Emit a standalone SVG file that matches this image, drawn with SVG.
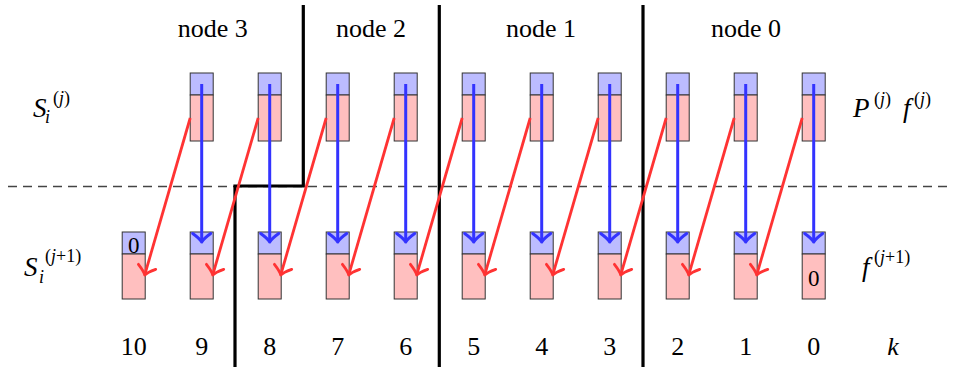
<svg xmlns="http://www.w3.org/2000/svg" width="953" height="367" viewBox="0 0 953 367">
<style>
.lbl{font-size:26px;text-anchor:middle}
.num{font-size:26px;text-anchor:middle}
.it{font-style:italic}
.sup{font-size:18px}
.blue{fill:#bcbcff;stroke:#333;stroke-width:1}
.pink{fill:#ffbfbf;stroke:#333;stroke-width:1}
.bnd{fill:none;stroke:#000;stroke-width:3.2;stroke-linejoin:miter}
.ba{stroke:#3333ff;stroke-width:3;fill:none;marker-end:url(#hb)}
.ra{stroke:#ff3333;stroke-width:2.8;fill:none;marker-end:url(#hr)}
</style>
<defs>
<marker id="hb" markerUnits="userSpaceOnUse" viewBox="-12 -12 14 24" refX="0" refY="0" markerWidth="14" markerHeight="24" orient="auto" overflow="visible">
<path d="M-8.5,-9 Q-3,-1.5 0,0 Q-3,1.5 -8.5,9" fill="none" stroke="#3333ff" stroke-width="3" stroke-linecap="round" stroke-linejoin="round"/>
</marker>
<marker id="hr" markerUnits="userSpaceOnUse" viewBox="-12 -12 14 24" refX="0" refY="0" markerWidth="14" markerHeight="24" orient="auto" overflow="visible">
<path d="M-8.5,-9 Q-3,-1.5 0,0 Q-3,1.5 -8.5,9" fill="none" stroke="#ff3333" stroke-width="2.8" stroke-linecap="round" stroke-linejoin="round"/>
</marker>
</defs>

<g id="separator">
<line x1="8" y1="186.5" x2="953" y2="186.5" stroke="#444" stroke-width="1.3" stroke-dasharray="9 6"/>
</g>

<g id="boundaries">
<path class="bnd" d="M303.3,5 V186 H235 V367"/>
<path class="bnd" d="M439.3,5 V367"/>
<path class="bnd" d="M643,5 V367"/>
</g>

<g id="node-labels">
<text class="lbl" font-family="Liberation Serif" x="212.7" y="37">node 3</text>
<text class="lbl" font-family="Liberation Serif" x="371" y="37">node 2</text>
<text class="lbl" font-family="Liberation Serif" x="541" y="37">node 1</text>
<text class="lbl" font-family="Liberation Serif" x="746" y="37">node 0</text>
</g>

<g id="top-row">
<g id="top-9"><rect class="blue" x="190.2" y="73" width="23" height="22"/><rect class="pink" x="190.2" y="95" width="23" height="46"/></g>
<g id="top-8"><rect class="blue" x="258.2" y="73" width="23" height="22"/><rect class="pink" x="258.2" y="95" width="23" height="46"/></g>
<g id="top-7"><rect class="blue" x="326.2" y="73" width="23" height="22"/><rect class="pink" x="326.2" y="95" width="23" height="46"/></g>
<g id="top-6"><rect class="blue" x="394.2" y="73" width="23" height="22"/><rect class="pink" x="394.2" y="95" width="23" height="46"/></g>
<g id="top-5"><rect class="blue" x="462.2" y="73" width="23" height="22"/><rect class="pink" x="462.2" y="95" width="23" height="46"/></g>
<g id="top-4"><rect class="blue" x="530.2" y="73" width="23" height="22"/><rect class="pink" x="530.2" y="95" width="23" height="46"/></g>
<g id="top-3"><rect class="blue" x="598.2" y="73" width="23" height="22"/><rect class="pink" x="598.2" y="95" width="23" height="46"/></g>
<g id="top-2"><rect class="blue" x="666.2" y="73" width="23" height="22"/><rect class="pink" x="666.2" y="95" width="23" height="46"/></g>
<g id="top-1"><rect class="blue" x="734.2" y="73" width="23" height="22"/><rect class="pink" x="734.2" y="95" width="23" height="46"/></g>
<g id="top-0"><rect class="blue" x="802.2" y="73" width="23" height="22"/><rect class="pink" x="802.2" y="95" width="23" height="46"/></g>
</g>

<g id="bottom-row">
<g id="bot-10"><rect class="blue" x="122.2" y="232" width="23" height="22"/><rect class="pink" x="122.2" y="254" width="23" height="45"/><text font-family="Liberation Serif" x="133.7" y="252.5" font-size="23" text-anchor="middle">0</text></g>
<g id="bot-9"><rect class="blue" x="190.2" y="232" width="23" height="22"/><rect class="pink" x="190.2" y="254" width="23" height="45"/></g>
<g id="bot-8"><rect class="blue" x="258.2" y="232" width="23" height="22"/><rect class="pink" x="258.2" y="254" width="23" height="45"/></g>
<g id="bot-7"><rect class="blue" x="326.2" y="232" width="23" height="22"/><rect class="pink" x="326.2" y="254" width="23" height="45"/></g>
<g id="bot-6"><rect class="blue" x="394.2" y="232" width="23" height="22"/><rect class="pink" x="394.2" y="254" width="23" height="45"/></g>
<g id="bot-5"><rect class="blue" x="462.2" y="232" width="23" height="22"/><rect class="pink" x="462.2" y="254" width="23" height="45"/></g>
<g id="bot-4"><rect class="blue" x="530.2" y="232" width="23" height="22"/><rect class="pink" x="530.2" y="254" width="23" height="45"/></g>
<g id="bot-3"><rect class="blue" x="598.2" y="232" width="23" height="22"/><rect class="pink" x="598.2" y="254" width="23" height="45"/></g>
<g id="bot-2"><rect class="blue" x="666.2" y="232" width="23" height="22"/><rect class="pink" x="666.2" y="254" width="23" height="45"/></g>
<g id="bot-1"><rect class="blue" x="734.2" y="232" width="23" height="22"/><rect class="pink" x="734.2" y="254" width="23" height="45"/></g>
<g id="bot-0"><rect class="blue" x="802.2" y="232" width="23" height="22"/><rect class="pink" x="802.2" y="254" width="23" height="45"/><text font-family="Liberation Serif" x="813.7" y="285.5" font-size="23" text-anchor="middle">0</text></g>
</g>

<g id="connectors">
<line class="ba" x1="201.7" y1="84" x2="201.7" y2="242"/>
<line class="ba" x1="269.7" y1="84" x2="269.7" y2="242"/>
<line class="ba" x1="337.7" y1="84" x2="337.7" y2="242"/>
<line class="ba" x1="405.7" y1="84" x2="405.7" y2="242"/>
<line class="ba" x1="473.7" y1="84" x2="473.7" y2="242"/>
<line class="ba" x1="541.7" y1="84" x2="541.7" y2="242"/>
<line class="ba" x1="609.7" y1="84" x2="609.7" y2="242"/>
<line class="ba" x1="677.7" y1="84" x2="677.7" y2="242"/>
<line class="ba" x1="745.7" y1="84" x2="745.7" y2="242"/>
<line class="ba" x1="813.7" y1="84" x2="813.7" y2="242"/>
<line class="ra" x1="190.2" y1="118" x2="144.7" y2="275"/>
<line class="ra" x1="258.2" y1="118" x2="212.7" y2="275"/>
<line class="ra" x1="326.2" y1="118" x2="280.7" y2="275"/>
<line class="ra" x1="394.2" y1="118" x2="348.7" y2="275"/>
<line class="ra" x1="462.2" y1="118" x2="416.7" y2="275"/>
<line class="ra" x1="530.2" y1="118" x2="484.7" y2="275"/>
<line class="ra" x1="598.2" y1="118" x2="552.7" y2="275"/>
<line class="ra" x1="666.2" y1="118" x2="620.7" y2="275"/>
<line class="ra" x1="734.2" y1="118" x2="688.7" y2="275"/>
<line class="ra" x1="802.2" y1="118" x2="756.7" y2="275"/>
</g>

<g id="side-labels">
<text font-family="Liberation Serif" font-size="27"><tspan class="it" x="33" y="117">S</tspan><tspan class="it sup" x="45" y="123">i</tspan><tspan class="sup" x="53" y="104">(<tspan class="it">j</tspan>)</tspan></text>
<text font-family="Liberation Serif" font-size="27"><tspan class="it" x="24" y="276">S</tspan><tspan class="it sup" x="39" y="283">i</tspan><tspan class="sup" x="45" y="262">(<tspan class="it">j</tspan>+1)</tspan></text>
<text font-family="Liberation Serif" font-size="27"><tspan class="it" x="853" y="117">P</tspan><tspan class="sup" x="874" y="105">(<tspan class="it">j</tspan>)</tspan><tspan class="it" x="903" y="117">f</tspan><tspan class="sup" x="914" y="105">(<tspan class="it">j</tspan>)</tspan></text>
<text font-family="Liberation Serif" font-size="27"><tspan class="it" x="862" y="276">f</tspan><tspan class="sup" x="874" y="263">(<tspan class="it">j</tspan>+1)</tspan></text>
</g>

<g id="index-labels">
<text class="num" font-family="Liberation Serif" x="133.7" y="355">10</text>
<text class="num" font-family="Liberation Serif" x="201.7" y="355">9</text>
<text class="num" font-family="Liberation Serif" x="269.7" y="355">8</text>
<text class="num" font-family="Liberation Serif" x="337.7" y="355">7</text>
<text class="num" font-family="Liberation Serif" x="405.7" y="355">6</text>
<text class="num" font-family="Liberation Serif" x="473.7" y="355">5</text>
<text class="num" font-family="Liberation Serif" x="541.7" y="355">4</text>
<text class="num" font-family="Liberation Serif" x="609.7" y="355">3</text>
<text class="num" font-family="Liberation Serif" x="677.7" y="355">2</text>
<text class="num" font-family="Liberation Serif" x="745.7" y="355">1</text>
<text class="num" font-family="Liberation Serif" x="813.7" y="355">0</text>
<text class="num it" font-family="Liberation Serif" x="893" y="355">k</text>
</g>
</svg>
